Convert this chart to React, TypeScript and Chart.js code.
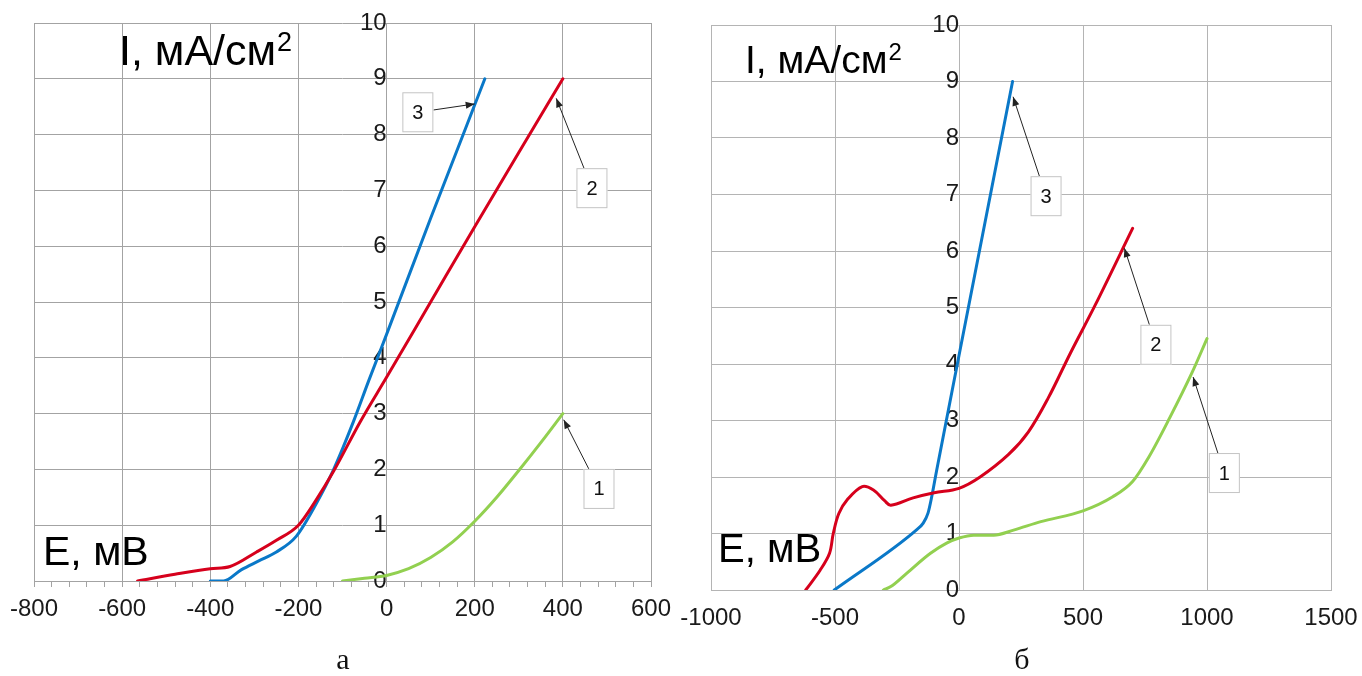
import React, { useEffect, useRef } from "react";
import { Chart, registerables } from "chart.js";

Chart.register(...registerables);

const FONT = "'Liberation Sans', Arial, Helvetica, sans-serif";
Chart.defaults.font.family = FONT;

// ---------- shared axis ticks (I, мА/см²)
const currentTicks = [0, 1, 2, 3, 4, 5, 6, 7, 8, 9, 10];

// ---------- panel а
const aPotentialTicks = [-800, -600, -400, -200, 0, 200, 400, 600];
const a1E = [-100, -50, 0, 50, 100, 150, 200, 250, 300, 350, 400];
const a1I = [0, 0.05, 0.1, 0.22, 0.42, 0.7, 1.07, 1.5, 1.98, 2.48, 3.0];
const a2E = [-565, -480, -400, -355, -295, -250, -200, -160, -120, -60, 0, 100, 200, 300, 400];
const a2I = [0, 0.12, 0.22, 0.26, 0.52, 0.73, 1.0, 1.45, 1.97, 2.85, 3.65, 5.0, 6.35, 7.68, 9.0];
const a3E = [-400, -370, -330, -290, -250, -205, -160, -120, -75, -40, 0, 100, 223];
const a3I = [0, 0, 0.2, 0.36, 0.52, 0.8, 1.38, 2.0, 2.86, 3.6, 4.42, 6.5, 9.0];
const aNoteLabels = ["3", "2", "1"];
const aNoteBoxE = [71, 466, 482];
const aNoteBoxI = [8.4, 7.04, 1.65];
const aNoteTipE = [200, 385, 402];
const aNoteTipI = [8.55, 8.65, 2.89];

// ---------- panel б
const bPotentialTicks = [-1000, -500, 0, 500, 1000, 1500];
const b1E = [-305, -275, -210, -115, -50, 0, 60, 140, 220, 330, 500, 620, 700, 765, 850, 940, 1000];
const b1I = [0, 0.06, 0.3, 0.65, 0.83, 0.92, 0.97, 0.97, 1.06, 1.21, 1.4, 1.65, 1.92, 2.35, 3.05, 3.85, 4.45];
const b2E = [-618, -560, -522, -507, -485, -450, -390, -345, -300, -275, -185, -100, 0, 85, 200, 280, 360, 450, 550, 700];
const b2I = [0, 0.35, 0.65, 1.0, 1.35, 1.6, 1.83, 1.77, 1.58, 1.5, 1.63, 1.72, 1.8, 2.0, 2.4, 2.8, 3.4, 4.2, 5.05, 6.4];
const b3E = [-503, -170, -145, -125, -110, -90, 0, 216];
const b3I = [0, 1.07, 1.18, 1.36, 1.65, 2.12, 4.15, 9.0];
const bNoteLabels = ["3", "2", "1"];
const bNoteBoxE = [351, 794, 1070];
const bNoteBoxI = [6.97, 4.34, 2.07];
const bNoteTipE = [218, 667, 944];
const bNoteTipI = [8.73, 6.05, 3.77];

const GREEN = "#92d050";
const RED = "#d6001c";
const BLUE = "#0a78c8";

type Series = { e: number[]; i: number[]; color: string; mono: boolean };
type Title = { text: string; sup?: string; size: number; supSize?: number; dx: number; dy: number; supDy?: number; fromBottom?: boolean };
type Panel = {
  width: number;
  height: number;
  xTicks: number[];
  minorStep: number;
  tickLength: number;
  labelPad: number;
  grid: string;
  padding: { left: number; right: number; top: number; bottom: number };
  series: Series[];
  labels: string[];
  boxE: number[];
  boxI: number[];
  tipE: number[];
  tipI: number[];
  titles: Title[];
};

const panelA: Panel = {
  width: 680,
  height: 650,
  xTicks: aPotentialTicks,
  minorStep: 40,
  tickLength: 6,
  labelPad: 8,
  grid: "#a3a3a3",
  padding: { left: 34, right: 29, top: 23, bottom: 19 },
  series: [
    { e: a1E, i: a1I, color: GREEN, mono: true },
    { e: a2E, i: a2I, color: RED, mono: true },
    { e: a3E, i: a3I, color: BLUE, mono: true },
  ],
  labels: aNoteLabels,
  boxE: aNoteBoxE,
  boxI: aNoteBoxI,
  tipE: aNoteTipE,
  tipI: aNoteTipI,
  titles: [
    { text: "I, мА/см", sup: "2", size: 43, supSize: 27, dx: 85, dy: 42, supDy: -14 },
    { text: "E, мВ", size: 41, dx: 9, dy: 16, fromBottom: true },
  ],
};

const panelB: Panel = {
  width: 682,
  height: 650,
  xTicks: bPotentialTicks,
  minorStep: 0,
  tickLength: 0,
  labelPad: 14,
  grid: "#b4b4b4",
  padding: { left: 31, right: 31, top: 25, bottom: 10 },
  series: [
    { e: b1E, i: b1I, color: GREEN, mono: true },
    { e: b2E, i: b2I, color: RED, mono: false },
    { e: b3E, i: b3I, color: BLUE, mono: true },
  ],
  labels: bNoteLabels,
  boxE: bNoteBoxE,
  boxI: bNoteBoxI,
  tipE: bNoteTipE,
  tipI: bNoteTipI,
  titles: [
    { text: "I, мА/см", sup: "2", size: 39, supSize: 24, dx: 34, dy: 48, supDy: -13 },
    { text: "E, мВ", size: 40, dx: 7, dy: 28, fromBottom: true },
  ],
};

function drawArrow(ctx: CanvasRenderingContext2D, x1: number, y1: number, x2: number, y2: number) {
  ctx.beginPath();
  ctx.moveTo(x1, y1);
  ctx.lineTo(x2, y2);
  ctx.stroke();
  const ang = Math.atan2(y2 - y1, x2 - x1);
  const L = 9;
  const W = 3.5;
  const bx = x2 - L * Math.cos(ang);
  const by = y2 - L * Math.sin(ang);
  ctx.beginPath();
  ctx.moveTo(x2, y2);
  ctx.lineTo(bx + W * Math.sin(ang), by - W * Math.cos(ang));
  ctx.lineTo(bx - W * Math.sin(ang), by + W * Math.cos(ang));
  ctx.closePath();
  ctx.fill();
}

function makePlugin(p: Panel) {
  return {
    id: "panelDecor",
    afterDraw(chart: any) {
      const { ctx, chartArea, scales } = chart;
      const sx = scales.x;
      const sy = scales.y;
      ctx.save();
      ctx.fillStyle = "#000";
      ctx.textBaseline = "alphabetic";
      ctx.textAlign = "left";
      for (const t of p.titles) {
        const x = chartArea.left + t.dx;
        const y = t.fromBottom ? chartArea.bottom - t.dy : chartArea.top + t.dy;
        ctx.font = `${t.size}px ${FONT}`;
        ctx.fillText(t.text, x, y);
        if (t.sup) {
          const w = ctx.measureText(t.text).width;
          ctx.font = `${t.supSize}px ${FONT}`;
          ctx.fillText(t.sup, x + w + 1, y + (t.supDy || 0));
        }
      }
      const hw = 15.5;
      const hh = 20;
      for (let k = 0; k < p.labels.length; k++) {
        const cx = sx.getPixelForValue(p.boxE[k]);
        const cy = sy.getPixelForValue(p.boxI[k]);
        const tx = sx.getPixelForValue(p.tipE[k]);
        const ty = sy.getPixelForValue(p.tipI[k]);
        const dx = tx - cx;
        const dy = ty - cy;
        const t = Math.min(hw / Math.max(Math.abs(dx), 1e-6), hh / Math.max(Math.abs(dy), 1e-6));
        ctx.strokeStyle = "#222";
        ctx.fillStyle = "#222";
        ctx.lineWidth = 1;
        drawArrow(ctx, cx + dx * t, cy + dy * t, tx, ty);
        ctx.fillStyle = "#fff";
        ctx.fillRect(cx - hw, cy - hh, hw * 2, hh * 2);
        ctx.strokeStyle = "#c4c4c4";
        ctx.strokeRect(cx - hw + 0.5, cy - hh + 0.5, hw * 2 - 1, hh * 2 - 1);
        ctx.fillStyle = "#111";
        ctx.font = `20px ${FONT}`;
        ctx.textAlign = "center";
        ctx.textBaseline = "middle";
        ctx.fillText(p.labels[k], cx, cy + 1);
      }
      ctx.restore();
    },
  };
}

function PanelChart({ p, left }: { p: Panel; left: number }) {
  const ref = useRef<HTMLCanvasElement | null>(null);
  useEffect(() => {
    if (!ref.current) return;
    const xMin = p.xTicks[0];
    const xMax = p.xTicks[p.xTicks.length - 1];
    const isMajor = (v: number) => p.xTicks.includes(v);
    const chart = new Chart(ref.current, {
      type: "line",
      data: {
        datasets: p.series.map((s) => ({
          data: s.e.map((x, k) => ({ x, y: s.i[k] })),
          borderColor: s.color,
          backgroundColor: s.color,
          borderWidth: 3,
          pointRadius: 0,
          fill: false,
          tension: 0.35,
          cubicInterpolationMode: s.mono ? "monotone" : "default",
          borderCapStyle: "round",
          borderJoinStyle: "round",
        })),
      },
      options: {
        responsive: false,
        maintainAspectRatio: false,
        animation: false,
        events: [],
        layout: { padding: p.padding },
        plugins: { legend: { display: false }, tooltip: { enabled: false } },
        scales: {
          x: {
            type: "linear",
            min: xMin,
            max: xMax,
            afterBuildTicks: (s: any) => {
              const vals: number[] = [];
              if (p.minorStep > 0) {
                for (let v = xMin; v <= xMax + 1e-9; v += p.minorStep) vals.push(v);
              } else {
                vals.push(...p.xTicks);
              }
              s.ticks = vals.map((v) => ({ value: v }));
            },
            afterFit: (s: any) => {
              s.height = 50;
              s.paddingLeft = 0;
              s.paddingRight = 0;
            },
            ticks: {
              autoSkip: false,
              maxRotation: 0,
              minRotation: 0,
              padding: p.labelPad,
              color: "#1a1a1a",
              font: { size: 24, family: FONT },
              callback: (v: any) => (isMajor(Number(v)) ? String(v) : ""),
            },
            grid: {
              color: (c: any) => (c.tick && isMajor(c.tick.value) ? p.grid : "rgba(0,0,0,0)"),
              tickColor: p.grid,
              drawTicks: p.tickLength > 0,
              tickLength: p.tickLength,
              lineWidth: 1,
            },
            border: { color: p.grid, width: 1 },
          },
          y: {
            type: "linear",
            min: 0,
            max: 10,
            position: { x: 0 } as any,
            afterBuildTicks: (s: any) => {
              s.ticks = currentTicks.map((v) => ({ value: v }));
            },
            afterFit: (s: any) => {
              s.paddingTop = 0;
              s.paddingBottom = 0;
            },
            ticks: {
              padding: 20,
              color: "#1a1a1a",
              font: { size: 24, family: FONT },
            },
            grid: { color: p.grid, drawTicks: false, lineWidth: 1 },
            border: { display: false },
          },
        },
      } as any,
      plugins: [makePlugin(p)],
    });
    return () => chart.destroy();
  }, [p]);
  return (
    <canvas
      ref={ref}
      width={p.width}
      height={p.height}
      style={{ position: "absolute", left, top: 0, width: p.width, height: p.height }}
    />
  );
}

const captionStyle: React.CSSProperties = {
  position: "absolute",
  top: 642,
  width: 60,
  textAlign: "center",
  fontFamily: "'Liberation Serif', 'Times New Roman', serif",
  fontSize: 30,
  lineHeight: "34px",
  color: "#111",
};

export default function App() {
  return (
    <div
      style={{
        position: "fixed",
        left: 0,
        top: 0,
        width: 1362,
        height: 676,
        background: "#fff",
        overflow: "hidden",
      }}
    >
      <PanelChart p={panelA} left={0} />
      <PanelChart p={panelB} left={680} />
      <div style={{ ...captionStyle, left: 343 - 30 }}>а</div>
      <div style={{ ...captionStyle, left: 1022 - 30 }}>б</div>
    </div>
  );
}
